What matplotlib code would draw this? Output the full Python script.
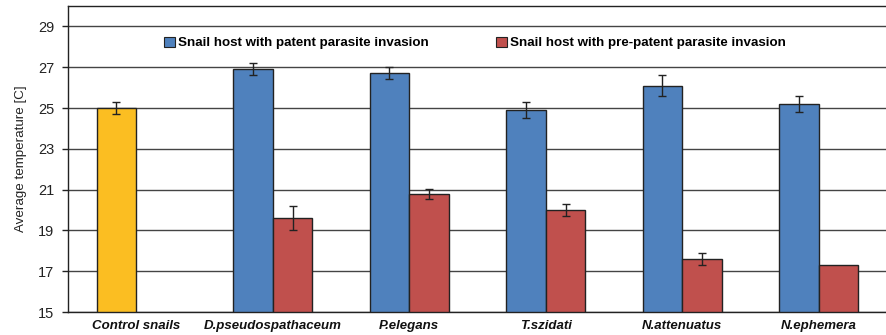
import matplotlib
matplotlib.use("Agg")
import matplotlib.pyplot as plt
import numpy as np
from matplotlib.patches import Patch

categories = ["Control snails", "D.pseudospathaceum", "P.elegans", "T.szidati", "N.attenuatus", "N.ephemera"]
patent = [25.0, 26.9, 26.7, 24.9, 26.1, 25.2]
patent_err = [0.3, 0.3, 0.3, 0.4, 0.5, 0.4]
prepatent = [np.nan, 19.6, 20.8, 20.0, 17.6, 17.3]
prepatent_err = [0, 0.6, 0.25, 0.3, 0.3, 0]
yticks = [15, 17, 19, 21, 23, 25, 27, 29]

plt.rcParams['font.family'] = ['Liberation Sans', 'DejaVu Sans']

fig = plt.figure(figsize=(8.87, 3.35), dpi=100)
ax = fig.add_axes([68/887, 1 - 312/335, (887 - 68)/887, (312 - 6)/335])

x = np.arange(len(categories))
w = 0.29
blue = '#4F81BD'
red = '#C0504D'
gold = '#FBBE22'
colors = [gold] + [blue] * (len(categories) - 1)

ax.set_axisbelow(True)
ax.yaxis.grid(True, color='#444444', linewidth=1.0)

ax.bar(x - w/2, patent, width=w, color=colors, edgecolor='#222222', linewidth=1.0, zorder=2)
ax.errorbar(x - w/2, patent, yerr=patent_err, fmt='none', ecolor='#222222', elinewidth=1.0, capsize=3, capthick=1.0, zorder=3)
pp = np.array(prepatent, dtype=float)
ax.bar(x + w/2, pp, width=w, color=red, edgecolor='#222222', linewidth=1.0, zorder=2)
mask = ~np.isnan(pp) & (np.array(prepatent_err) > 0)
ax.errorbar((x + w/2)[mask], pp[mask], yerr=np.array(prepatent_err)[mask], fmt='none', ecolor='#222222', elinewidth=1.0, capsize=3, capthick=1.0, zorder=3)

ax.set_xlim(-0.5, 5.5)
ax.set_ylim(15, 30)
ax.set_yticks(yticks)
ax.set_yticklabels([str(t) for t in yticks], fontsize=10.5, color='#222222')
ax.set_xticks(x)
ax.set_xticklabels(categories, fontsize=9.5, fontweight='bold', fontstyle='italic', color='#111111')
ax.tick_params(axis='x', length=0, pad=6)
ax.tick_params(axis='y', length=4, direction='out', width=1, color='#222222', pad=6)
ax.set_ylabel("Average temperature [C]", fontsize=9.6, color='#222222', labelpad=8)

for s in ['left', 'bottom', 'top']:
    ax.spines[s].set_color('#222222')
    ax.spines[s].set_linewidth(1.0)
ax.spines['right'].set_visible(False)

handles = [Patch(facecolor=blue, edgecolor='#222222', linewidth=0.8),
           Patch(facecolor=red, edgecolor='#222222', linewidth=0.8)]
labels = ["Snail host with patent parasite invasion", "Snail host with pre-patent parasite invasion"]
leg = ax.legend(handles, labels, loc='center', bbox_to_anchor=(475/887, 1 - 43/335), bbox_transform=fig.transFigure,
                ncol=2, frameon=False, prop={'weight': 'bold', 'size': 9.6}, handlelength=0.85, handleheight=0.85,
                handletextpad=0.25, columnspacing=5.0)

fig.savefig("out.png", dpi=100)
